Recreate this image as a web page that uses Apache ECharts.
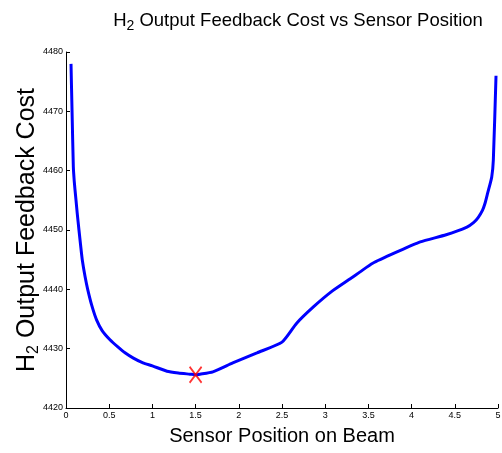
<!DOCTYPE html>
<html>
<head>
<meta charset="utf-8">
<script src="https://cdn.jsdelivr.net/npm/echarts@6/dist/echarts.min.js"></script>
<style>html,body{margin:0;padding:0;background:#fff;}#c{width:502px;height:453px;}</style>
</head>
<body>
<div id="c"></div>
<script>
var positions = [0.058, 0.07, 0.085, 0.095, 0.104, 0.116, 0.13, 0.15, 0.17, 0.189, 0.22, 0.251, 0.3, 0.355, 0.42, 0.509, 0.6, 0.683, 0.78, 0.891, 1.0, 1.169, 1.3, 1.435, 1.5, 1.55, 1.7, 1.93, 2.21, 2.5, 2.67, 2.86, 3.08, 3.29, 3.4, 3.55, 3.83, 4.1, 4.4, 4.64, 4.72, 4.77, 4.82, 4.85, 4.88, 4.927, 4.946, 4.977];
var costs     = [4478, 4470, 4460.6, 4458.3, 4456.8, 4455, 4452.8, 4450, 4447.3, 4444.9, 4442.2, 4440, 4437.2, 4434.8, 4433, 4431.5, 4430.3, 4429.3, 4428.4, 4427.6, 4427.1, 4426.2, 4425.9, 4425.7, 4425.6, 4425.7, 4426.1, 4427.6, 4429.3, 4431.1, 4434.3, 4437.0, 4439.7, 4441.8, 4442.9, 4444.4, 4446.3, 4448.0, 4449.2, 4450.5, 4451.3, 4452.1, 4453.3, 4454.5, 4456.2, 4458.9, 4461.8, 4476];
var optimum = [1.5, 4425.6];
var xTicks = [0, 0.5, 1, 1.5, 2, 2.5, 3, 3.5, 4, 4.5, 5];
var yTicks = [4420, 4430, 4440, 4450, 4460, 4470, 4480];

var chart = echarts.init(document.getElementById('c'));
var font = 'Liberation Sans';
var line = positions.map(function (p, i) { return [p, costs[i]]; });
chart.setOption({
  animation: false,
  backgroundColor: '#fff',
  title: {
    text: '{a|H}{b|2}{a| Output Feedback Cost vs Sensor Position}',
    left: 293, top: 6, textAlign: 'center',
    textStyle: {
      rich: {
        a: { fontFamily: font, fontSize: 18.5, fontWeight: 'normal', color: '#000', verticalAlign: 'top', lineHeight: 22 },
        b: { fontFamily: font, fontSize: 14, fontWeight: 'normal', color: '#000', verticalAlign: 'bottom', lineHeight: 14, padding: [14, 0, 0, 0] }
      }
    }
  },
  grid: { left: 66, right: 4, top: 52, bottom: 45, containLabel: false, outerBoundsMode: 'none' },
  xAxis: {
    type: 'value', min: 0, max: 5, interval: 0.5,
    name: 'Sensor Position on Beam', nameLocation: 'middle', nameGap: 18, nameMoveOverlap: false,
    nameTextStyle: { fontFamily: font, fontSize: 20, color: '#000' },
    axisLine: { lineStyle: { color: '#000', width: 1 } },
    axisTick: { inside: true, length: 4, lineStyle: { color: '#000' } },
    axisLabel: { fontFamily: font, fontSize: 9, color: '#000', margin: 3, showMaxLabel: true,
      formatter: function (v) { return xTicks.indexOf(v) >= 0 ? String(v) : ''; } },
    splitLine: { show: false }
  },
  yAxis: {
    type: 'value', min: 4420, max: 4480, interval: 10,
    name: '{a|H}{b|2}{a| Output Feedback Cost}', nameLocation: 'middle', nameGap: 24, nameRotate: 90, nameMoveOverlap: false,
    nameTextStyle: {
      rich: {
        a: { fontFamily: font, fontSize: 25, color: '#000', verticalAlign: 'top', lineHeight: 27 },
        b: { fontFamily: font, fontSize: 16, color: '#000', verticalAlign: 'bottom', lineHeight: 16, padding: [16, 0, 0, 0] }
      }
    },
    axisLine: { show: true, lineStyle: { color: '#000', width: 1 } },
    axisTick: { show: true, inside: true, length: 4, lineStyle: { color: '#000' } },
    axisLabel: { fontFamily: font, fontSize: 9, color: '#000', margin: 3,
      formatter: function (v) { return yTicks.indexOf(v) >= 0 ? String(v) : ''; } },
    splitLine: { show: false }
  },
  series: [
    {
      type: 'line', data: line, showSymbol: false, smooth: 0.2,
      lineStyle: { color: '#0000ff', width: 3 }, z: 2
    },
    {
      type: 'scatter', data: [optimum],
      symbol: 'path://M0,0 L12,16 M12,0 L0,16', symbolSize: [12, 16],
      itemStyle: { color: 'none', borderColor: '#ff0000', borderWidth: 2 }, z: 3
    }
  ]
});
</script>
</body>
</html>
